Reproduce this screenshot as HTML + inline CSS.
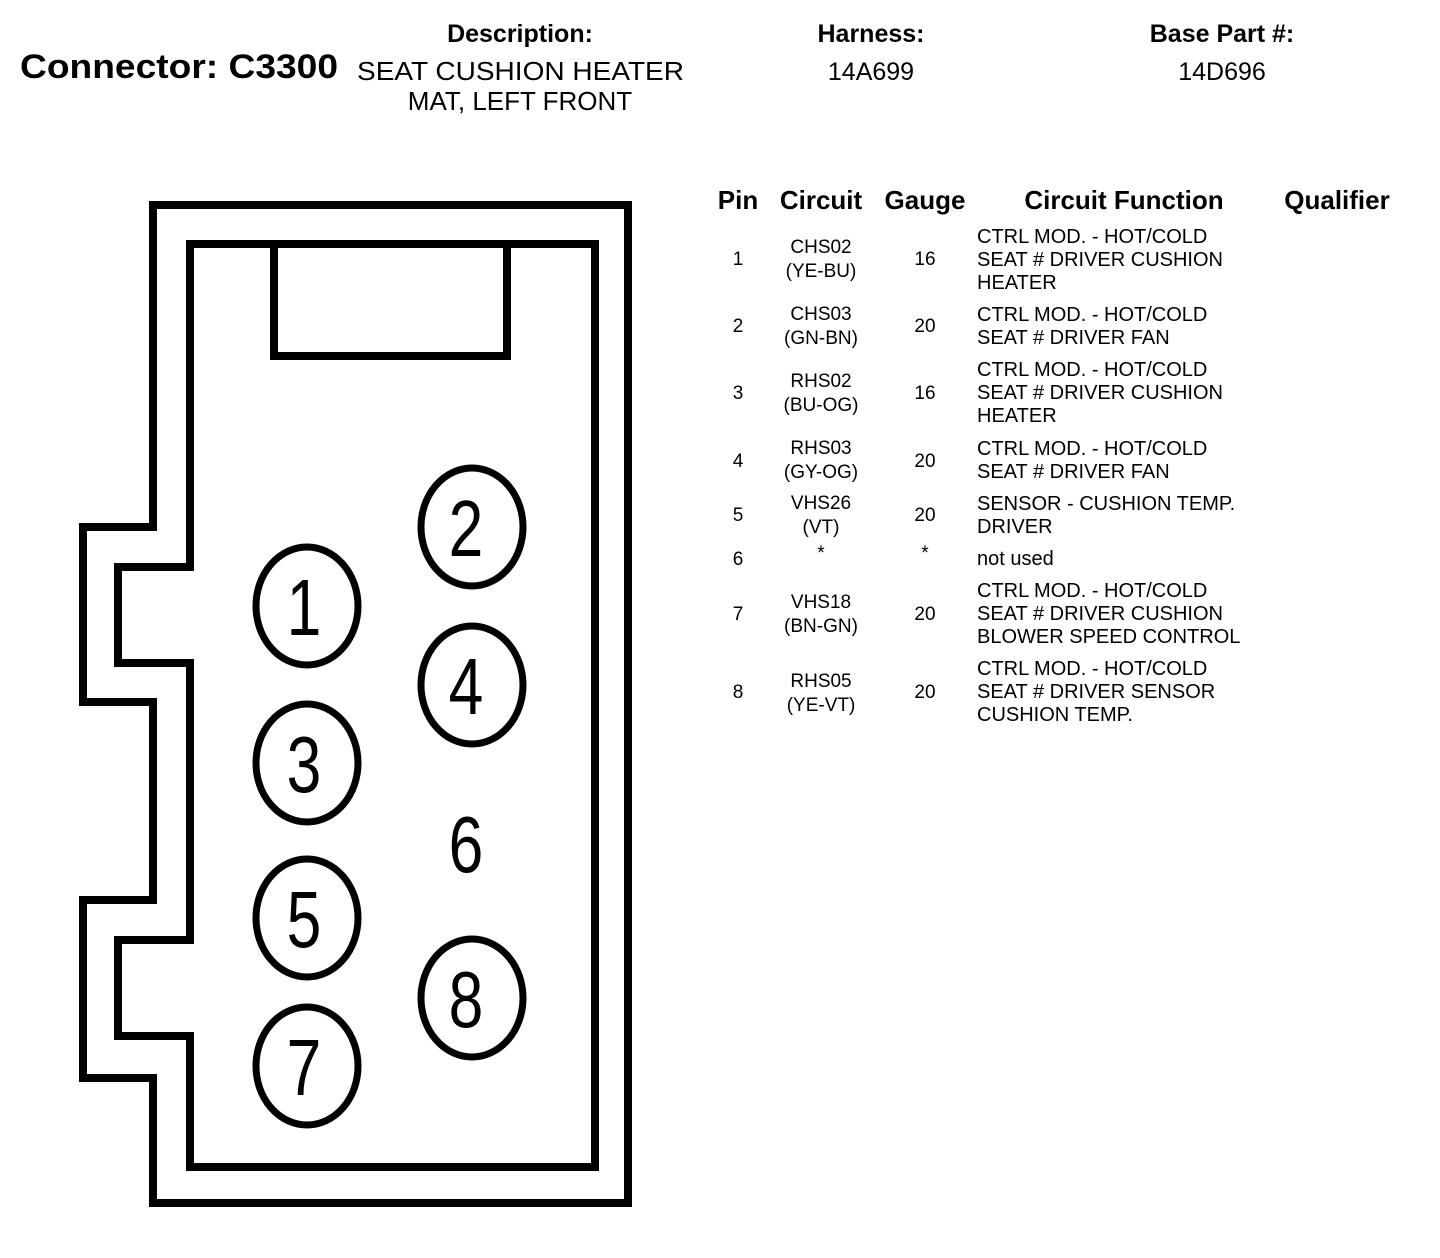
<!DOCTYPE html>
<html><head><meta charset="utf-8"><style>
html,body{margin:0;padding:0;background:#fff;}
svg{display:block;}
text{font-family:"Liberation Sans",Arial,sans-serif;fill:#000;}
.b{font-weight:bold;}
</style></head><body>
<svg width="1440" height="1258" viewBox="0 0 1440 1258" xmlns="http://www.w3.org/2000/svg">
<rect width="1440" height="1258" fill="#fff"/>
<text x="20" y="78" class="b" font-size="34" textLength="318" lengthAdjust="spacingAndGlyphs">Connector: C3300</text>
<text x="520" y="42" class="b" font-size="25" text-anchor="middle">Description:</text>
<text x="357" y="80" font-size="26" textLength="327" lengthAdjust="spacingAndGlyphs">SEAT CUSHION HEATER</text>
<text x="520" y="110" font-size="26" text-anchor="middle">MAT, LEFT FRONT</text>
<text x="871" y="42" class="b" font-size="25" text-anchor="middle">Harness:</text>
<text x="871" y="80" font-size="25" text-anchor="middle">14A699</text>
<text x="1222" y="42" class="b" font-size="25" text-anchor="middle">Base Part #:</text>
<text x="1222" y="80" font-size="25" text-anchor="middle">14D696</text>

<g fill="none" stroke="#000" stroke-width="8" stroke-linejoin="miter">
<path d="M153,1203 L153,1078 L83,1078 L83,900 L153,900 L153,702 L83,702 L83,527 L153,527 L153,205 L628,205 L628,1203 Z"/>
<path d="M190,1167 L190,1036 L118,1036 L118,940 L190,940 L190,663 L118,663 L118,567 L190,567 L190,244 L595,244 L595,1167 Z"/>
<path d="M274,244 L274,356 L507,356 L507,244"/>
<g stroke-width="7">
<ellipse cx="307" cy="606" rx="51" ry="59"/>
<ellipse cx="472" cy="527" rx="51" ry="59"/>
<ellipse cx="472" cy="685" rx="51" ry="59"/>
<ellipse cx="307" cy="763" rx="51" ry="59"/>
<ellipse cx="307" cy="918" rx="51" ry="59"/>
<ellipse cx="472" cy="998" rx="51" ry="59"/>
<ellipse cx="307" cy="1066" rx="51" ry="59"/>
</g>
</g>
<g font-size="80" text-anchor="middle">
<text transform="translate(304,635) scale(0.78,1)">1</text>
<text transform="translate(466,556) scale(0.78,1)">2</text>
<text transform="translate(466,714) scale(0.78,1)">4</text>
<text transform="translate(304,792) scale(0.78,1)">3</text>
<text transform="translate(466,872) scale(0.78,1)">6</text>
<text transform="translate(304,947) scale(0.78,1)">5</text>
<text transform="translate(466,1027) scale(0.78,1)">8</text>
<text transform="translate(304,1095) scale(0.78,1)">7</text>
</g>

<g class="b" font-size="26">
<text x="738" y="209" text-anchor="middle">Pin</text>
<text x="821" y="209" text-anchor="middle">Circuit</text>
<text x="925" y="209" text-anchor="middle">Gauge</text>
<text x="1124" y="209" text-anchor="middle">Circuit Function</text>
<text x="1337" y="209" text-anchor="middle">Qualifier</text>
</g>
<g font-size="19">
<g text-anchor="middle">
<text x="738" y="265">1</text><text x="821" y="253">CHS02</text><text x="821" y="277">(YE-BU)</text><text x="925" y="265">16</text>
<text x="738" y="332">2</text><text x="821" y="320">CHS03</text><text x="821" y="344">(GN-BN)</text><text x="925" y="332">20</text>
<text x="738" y="399">3</text><text x="821" y="387">RHS02</text><text x="821" y="411">(BU-OG)</text><text x="925" y="399">16</text>
<text x="738" y="467">4</text><text x="821" y="454">RHS03</text><text x="821" y="478">(GY-OG)</text><text x="925" y="467">20</text>
<text x="738" y="521">5</text><text x="821" y="509">VHS26</text><text x="821" y="533">(VT)</text><text x="925" y="521">20</text>
<text x="738" y="565">6</text><text x="821" y="559">*</text><text x="925" y="559">*</text>
<text x="738" y="620">7</text><text x="821" y="608">VHS18</text><text x="821" y="632">(BN-GN)</text><text x="925" y="620">20</text>
<text x="738" y="698">8</text><text x="821" y="687">RHS05</text><text x="821" y="711">(YE-VT)</text><text x="925" y="698">20</text>
</g>
<g font-size="20">
<text x="977" y="243">CTRL MOD. - HOT/COLD</text>
<text x="977" y="266">SEAT # DRIVER CUSHION</text>
<text x="977" y="289">HEATER</text>
<text x="977" y="321">CTRL MOD. - HOT/COLD</text>
<text x="977" y="344">SEAT # DRIVER FAN</text>
<text x="977" y="376">CTRL MOD. - HOT/COLD</text>
<text x="977" y="399">SEAT # DRIVER CUSHION</text>
<text x="977" y="422">HEATER</text>
<text x="977" y="455">CTRL MOD. - HOT/COLD</text>
<text x="977" y="478">SEAT # DRIVER FAN</text>
<text x="977" y="510">SENSOR - CUSHION TEMP.</text>
<text x="977" y="533">DRIVER</text>
<text x="977" y="565">not used</text>
<text x="977" y="597">CTRL MOD. - HOT/COLD</text>
<text x="977" y="620">SEAT # DRIVER CUSHION</text>
<text x="977" y="643">BLOWER SPEED CONTROL</text>
<text x="977" y="675">CTRL MOD. - HOT/COLD</text>
<text x="977" y="698">SEAT # DRIVER SENSOR</text>
<text x="977" y="721">CUSHION TEMP.</text>
</g>
</g>
</svg>
</body></html>
